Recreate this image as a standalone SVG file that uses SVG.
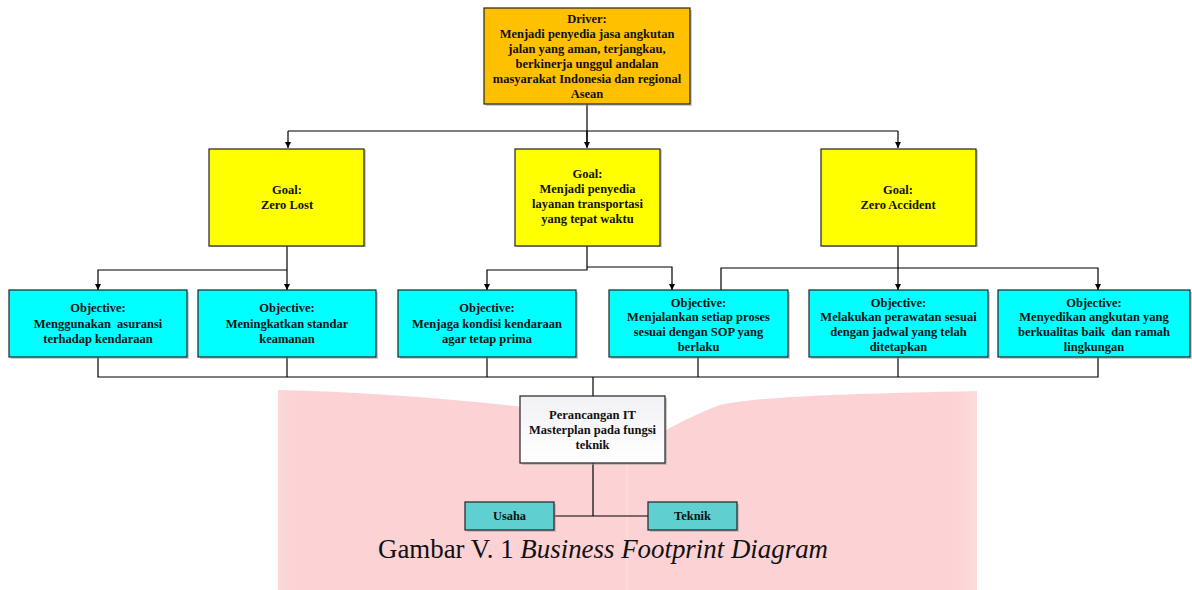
<svg xmlns="http://www.w3.org/2000/svg" width="1192" height="590" viewBox="0 0 1192 590">
<defs>
<marker id="ah" viewBox="0 0 10 10" refX="10" refY="5" markerWidth="7" markerHeight="6" orient="auto" markerUnits="userSpaceOnUse"><path d="M0,0 L10,5 L0,10 z" fill="#000"/></marker>
<linearGradient id="wg" x1="0" y1="0" x2="0" y2="1"><stop offset="0" stop-color="#f2f2f6"/><stop offset="1" stop-color="#ffffff"/></linearGradient>
<linearGradient id="pg" x1="0" y1="0" x2="1" y2="0"><stop offset="0" stop-color="#fbd8d9"/><stop offset="0.02" stop-color="#fdd2d4"/><stop offset="0.97" stop-color="#fdd2d4"/><stop offset="1" stop-color="#fbdcdd"/></linearGradient>
</defs>
<style>
.box{stroke:#222;stroke-width:1.2}
.sh{fill:#9a9a9a;opacity:0.5}
.drv{fill:#FFC000}
.goal{fill:#FFFF00}
.obj{fill:#00FFFF}
.tl{fill:#5FCFCF}
.wt{fill:url(#wg)}
.t{font-family:"Liberation Serif","Times New Roman",serif;font-weight:bold;font-size:12.5px;fill:#111;text-anchor:middle}
.ts{font-family:"Liberation Serif","Times New Roman",serif;font-weight:bold;font-size:12px;fill:#111;text-anchor:middle}
.c{fill:none;stroke:#000;stroke-width:1.2}
.cap{font-family:"Liberation Serif","Times New Roman",serif;font-size:28px;fill:#111}
</style>
<rect width="1192" height="590" fill="#fff"/>
<g id="watermark">
<path d="M278,390 C380,392 500,402 627,420 L627,450 C650,440 680,420 720,405 C760,396 850,394 977,391 L977,590 L278,590 Z" fill="url(#pg)"/>
<rect x="626" y="420" width="2" height="170" fill="#fdd9da"/>
</g>
<g id="connectors">
<path class="c" d="M587,104 V147"/>
<path class="c" d="M288,131 H898"/>
<path class="c" d="M288,131 V148" marker-end="url(#ah)"/>
<path class="c" d="M587,131 V148" marker-end="url(#ah)"/>
<path class="c" d="M898,131 V148" marker-end="url(#ah)"/>
<path class="c" d="M287,246 V290" marker-end="url(#ah)"/>
<path class="c" d="M287,270 H98 V290" marker-end="url(#ah)"/>
<path class="c" d="M587,246 V270 H487 V290" marker-end="url(#ah)"/>
<path class="c" d="M587,267 H672 V290" marker-end="url(#ah)"/>
<path class="c" d="M898,246 V290" marker-end="url(#ah)"/>
<path class="c" d="M721,290 V268 H1098 V290" marker-end="url(#ah)"/>
<path class="c" d="M98,357 V377 H1098 V357"/>
<path class="c" d="M287,357 V377"/>
<path class="c" d="M487,357 V377"/>
<path class="c" d="M698,357 V377"/>
<path class="c" d="M898,357 V377"/>
<path class="c" d="M593,377 V396"/>
<path class="c" d="M593,463 V516"/>
<path class="c" d="M554,516 H648"/>
</g>
<g id="driver">
<rect class="sh" x="486" y="10" width="206" height="96"/>
<rect class="box drv" x="484" y="8" width="206" height="96"/>
<text class="t" x="587" y="23">Driver:</text>
<text class="t" x="587" y="38">Menjadi penyedia jasa angkutan</text>
<text class="t" x="587" y="53">jalan yang aman, terjangkau,</text>
<text class="t" x="587" y="68">berkinerja unggul andalan</text>
<text class="t" x="587" y="83">masyarakat Indonesia dan regional</text>
<text class="t" x="587" y="98">Asean</text>
</g>
<g id="goal1">
<rect class="sh" x="211" y="150" width="155" height="97"/>
<rect class="box goal" x="209" y="149" width="155" height="97"/>
<text class="t" x="287" y="194">Goal:</text>
<text class="t" x="287" y="209">Zero Lost</text>
</g>
<g id="goal2">
<rect class="sh" x="517" y="150" width="145" height="97"/>
<rect class="box goal" x="515" y="149" width="145" height="97"/>
<text class="t" x="587.5" y="178">Goal:</text>
<text class="t" x="587.5" y="193">Menjadi penyedia</text>
<text class="t" x="587.5" y="208">layanan transportasi</text>
<text class="t" x="587.5" y="223">yang tepat waktu</text>
</g>
<g id="goal3">
<rect class="sh" x="823" y="150" width="155" height="97"/>
<rect class="box goal" x="821" y="149" width="155" height="97"/>
<text class="t" x="898" y="194">Goal:</text>
<text class="t" x="898" y="209">Zero Accident</text>
</g>
<g id="obj1">
<rect class="sh" x="11" y="292" width="178" height="67"/>
<rect class="box obj" x="9" y="290" width="178" height="67"/>
<text class="t" x="98" y="312">Objective:</text>
<text class="t" x="98" y="327.5" xml:space="preserve">Menggunakan  asuransi</text>
<text class="t" x="98" y="343">terhadap kendaraan</text>
</g>
<g id="obj2">
<rect class="sh" x="200" y="292" width="178" height="67"/>
<rect class="box obj" x="198" y="290" width="178" height="67"/>
<text class="t" x="287" y="312">Objective:</text>
<text class="t" x="287" y="327.5">Meningkatkan standar</text>
<text class="t" x="287" y="343">keamanan</text>
</g>
<g id="obj3">
<rect class="sh" x="400" y="292" width="178" height="67"/>
<rect class="box obj" x="398" y="290" width="178" height="67"/>
<text class="t" x="487" y="312">Objective:</text>
<text class="t" x="487" y="327.5">Menjaga kondisi kendaraan</text>
<text class="t" x="487" y="343">agar tetap prima</text>
</g>
<g id="obj4">
<rect class="sh" x="611" y="292" width="179" height="67"/>
<rect class="box obj" x="609" y="290" width="179" height="67"/>
<text class="t" x="698.5" y="307">Objective:</text>
<text class="t" x="698.5" y="321">Menjalankan setiap proses</text>
<text class="t" x="698.5" y="336">sesuai dengan SOP yang</text>
<text class="t" x="698.5" y="351">berlaku</text>
</g>
<g id="obj5">
<rect class="sh" x="811" y="292" width="179" height="67"/>
<rect class="box obj" x="809" y="290" width="179" height="67"/>
<text class="t" x="898.5" y="307">Objective:</text>
<text class="t" x="898.5" y="321">Melakukan perawatan sesuai</text>
<text class="t" x="898.5" y="336">dengan jadwal yang telah</text>
<text class="t" x="898.5" y="351">ditetapkan</text>
</g>
<g id="obj6">
<rect class="sh" x="1000" y="292" width="192" height="67"/>
<rect class="box obj" x="998" y="290" width="192" height="67"/>
<text class="t" x="1094" y="307">Objective:</text>
<text class="t" x="1094" y="321">Menyedikan angkutan yang</text>
<text class="t" x="1094" y="336" xml:space="preserve">berkualitas baik  dan ramah</text>
<text class="t" x="1094" y="351">lingkungan</text>
</g>
<g id="perancangan">
<rect class="sh" x="522" y="398" width="145" height="67"/>
<rect class="box wt" x="520" y="396" width="145" height="67"/>
<text class="ts" x="592.5" y="419" textLength="87" lengthAdjust="spacingAndGlyphs">Perancangan IT</text>
<text class="ts" x="592.5" y="434" textLength="127" lengthAdjust="spacingAndGlyphs">Masterplan pada fungsi</text>
<text class="ts" x="592.5" y="449" textLength="34" lengthAdjust="spacingAndGlyphs">teknik</text>
</g>
<g id="usaha">
<rect class="sh" x="467" y="504" width="89" height="28"/>
<rect class="box tl" x="465" y="502" width="89" height="28"/>
<text class="ts" x="509.5" y="520" textLength="33" lengthAdjust="spacingAndGlyphs">Usaha</text>
</g>
<g id="teknik">
<rect class="sh" x="650" y="504" width="89" height="28"/>
<rect class="box tl" x="648" y="502" width="89" height="28"/>
<text class="ts" x="692.5" y="520" textLength="37" lengthAdjust="spacingAndGlyphs">Teknik</text>
</g>
<text class="cap" x="378" y="558" textLength="450" lengthAdjust="spacingAndGlyphs">Gambar V. 1 <tspan font-style="italic">Business Footprint Diagram</tspan></text>
</svg>
